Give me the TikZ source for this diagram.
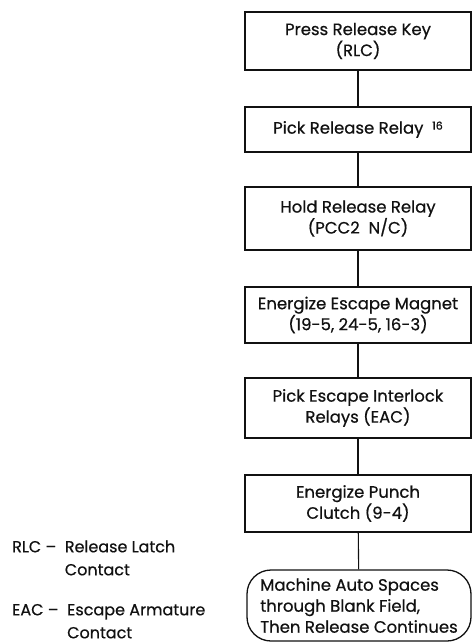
\documentclass[tikz,border=0pt]{standalone}
\usepackage{fontspec}
\setmainfont{Poppins}[FakeBold=0.6]
\usepackage{tikz}
\usetikzlibrary{positioning}
\definecolor{ink}{HTML}{111111}
\tikzset{
  stepbox/.style={draw=ink,line width=1.3pt,minimum width=226pt,inner sep=0pt,align=center,font=\fontsize{16.5}{21}\selectfont,text=ink},
  endbox/.style={stepbox,rounded corners=24pt},
  link/.style={draw=ink,line width=1.1pt},
  legend/.style={anchor=north west,align=left,font=\fontsize{16}{23}\selectfont,text=ink,inner sep=0pt},
}
\begin{document}
\begin{tikzpicture}[x=1pt,y=1pt]
  \useasboundingbox (0,0) rectangle (472,-643);

  \node[stepbox,minimum height=58pt] (press) at (358,-41) {Press Release Key\\(RLC)};
  \node[stepbox,minimum height=45pt] (pick) at (358,-129.5) {Pick Release Relay\ \ \raisebox{4pt}{\fontsize{11}{11}\selectfont 16}};
  \node[stepbox,minimum height=63pt] (hold) at (358,-218.5) {Hold Release Relay\\(PCC2\ \ N/C)};
  \node[stepbox,minimum height=56pt] (magnet) at (358,-315) {Energize Escape Magnet\\(19-5, 24-5, 16-3)};
  \node[stepbox,minimum height=60pt] (interlock) at (358,-408) {Pick Escape Interlock\\Relays (EAC)};
  \node[stepbox,minimum height=57pt] (clutch) at (358,-503.5) {Energize Punch\\Clutch (9-4)};
  \node[endbox,minimum height=71pt,minimum width=224pt,align=left] (spaces) at (359,-605.5) {Machine Auto Spaces\\through Blank Field,\\Then Release Continues};

  \draw[link] (press) -- (pick);
  \draw[link] (pick) -- (hold);
  \draw[link] (hold) -- (magnet);
  \draw[link] (magnet) -- (interlock);
  \draw[link] (interlock) -- (clutch);
  \draw[link] (clutch) -- (spaces);

  % abbreviations
  \node[legend] (rlc) at (12,-536) {\begin{tabular}{@{}l@{\ \ }l@{}}RLC -- & Release Latch\\ & Contact\end{tabular}};
  \node[legend] (eac) at (12,-599) {\begin{tabular}{@{}l@{\ \ }l@{}}EAC -- & Escape Armature\\ & Contact\end{tabular}};
\end{tikzpicture}
\end{document}
